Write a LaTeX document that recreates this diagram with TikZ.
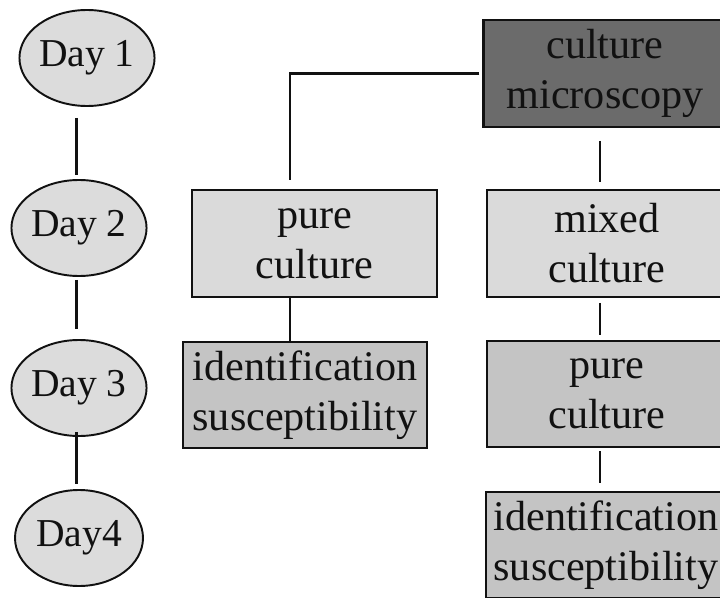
\documentclass[tikz,border=0pt]{standalone}
\usepackage{fontspec}
\setmainfont{Liberation Serif}
\newfontfamily\boxfont{Liberation Serif}
\usetikzlibrary{shapes.geometric}
\definecolor{Ink}{HTML}{111111}
\definecolor{DayBg}{HTML}{DCDCDC}
\definecolor{LightBg}{HTML}{DADADA}
\definecolor{MidBg}{HTML}{C4C4C4}
\definecolor{DarkBg}{HTML}{6B6B6B}
\tikzset{
  day node/.style={ellipse,draw=Ink,fill=DayBg,line width=1.1pt,minimum width=2.56cm,minimum height=1.92cm,inner sep=0pt,text=Ink,font=\boxfont\fontsize{22.5}{26}\selectfont},
  stage box/.style={draw=Ink,line width=1.4pt,minimum width=4.86cm,minimum height=2.13cm,inner sep=0pt,align=center,text=Ink,font=\boxfont\fontsize{24}{28.5}\selectfont},
  light box/.style={stage box,fill=LightBg},
  mid box/.style={stage box,fill=MidBg},
  dark box/.style={stage box,fill=DarkBg},
  link/.style={draw=Ink,line width=1.3pt}
}

\begin{document}
\begin{tikzpicture}[x=1cm,y=1cm,line cap=butt]
  \useasboundingbox (0,0) rectangle (14.4,11.94);

  % days
  \node[day node] (day1) at (1.74,10.78) {Day 1};
  \node[day node] (day2) at (1.58,7.38) {Day 2};
  \node[day node] (day3) at (1.58,4.18) {Day 3};
  \node[day node] (day4) at (1.58,1.18) {Day4};
  \coordinate (dspine) at (1.53,0);
  \draw[link,shorten <=0.22cm,shorten >=0.08cm] (day1.south -| dspine) -- (day2.north -| dspine);
  \draw[link,shorten <=0.06cm,shorten >=0.2cm] (day2.south -| dspine) -- (day3.north -| dspine);
  \draw[link,shorten <=-0.1cm,shorten >=0.1cm] (day3.south -| dspine) -- (day4.north -| dspine);

  % boxes
  \node[dark box] (micro) at (12.1,10.47) {culture\\microscopy};
  \node[light box,minimum width=4.9cm] (lpure) at (6.29,7.07) {pure\\culture};
  \node[mid box,minimum width=4.88cm,minimum height=2.12cm] (lident) at (6.10,4.04) {identification\\susceptibility};
  \node[light box,minimum width=4.8cm] (mixed) at (12.14,7.07) {mixed\\culture};
  \node[mid box,minimum width=4.8cm] (rpure) at (12.14,4.06) {pure\\culture};
  \node[mid box,minimum width=4.8cm] (rident) at (12.12,1.04) {identification\\susceptibility};

  % connectors
  \coordinate (lspine) at (5.8,0);
  \coordinate (rspine) at (12.0,0);
  \draw[link,shorten <=0.06cm,shorten >=0.18cm] (micro.west) -| (lpure.north -| lspine);
  \draw[link] (lpure.south -| lspine) -- (lident.north -| lspine);
  \draw[link,shorten <=0.26cm,shorten >=0.14cm] (micro.south -| rspine) -- (mixed.north -| rspine);
  \draw[link,shorten <=0.1cm,shorten >=0.1cm] (mixed.south -| rspine) -- (rpure.north -| rspine);
  \draw[link,shorten <=0.06cm,shorten >=0.16cm] (rpure.south -| rspine) -- (rident.north -| rspine);
\end{tikzpicture}
\end{document}
